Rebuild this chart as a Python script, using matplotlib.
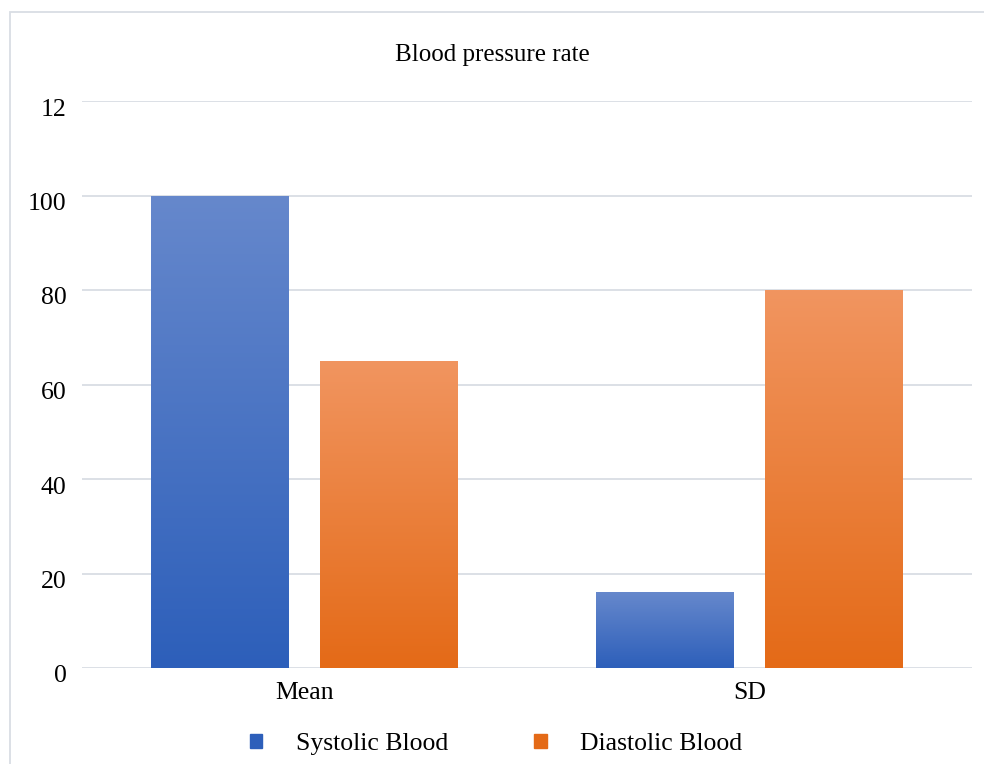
import numpy as np
import matplotlib.pyplot as plt
from matplotlib.patches import Rectangle, Patch
from matplotlib.colors import LinearSegmentedColormap
from matplotlib.transforms import ScaledTranslation

# 数据
categories = ['Mean', 'SD']
series_names = ['Systolic Blood', 'Diastolic Blood']
systolic = [100, 16]
diastolic = [65, 80]
yticks = [0, 20, 40, 60, 80, 100, 120]
ytick_labels = ['0', '20', '40', '60', '80', '100', '12']

plt.rcParams['font.family'] = ['Liberation Serif', 'DejaVu Serif']

blue_top, blue_bot = '#6688cc', '#2d5fba'
orange_top, orange_bot = '#f19560', '#e46a17'

fig = plt.figure(figsize=(9.84, 7.64), dpi=100)
ax = fig.add_axes([82 / 984, 1 - 668 / 764, 890 / 984, 567 / 764])

x = np.arange(len(categories))
w = 0.31
off = 0.19
b1 = ax.bar(x - off, systolic, w, color=blue_bot, zorder=2)
b2 = ax.bar(x + off, diastolic, w, color=orange_bot, zorder=2)

# 渐变填充
grad = np.linspace(0, 1, 256).reshape(-1, 1)
for bars, top, bot in [(b1, blue_top, blue_bot), (b2, orange_top, orange_bot)]:
    cmap = LinearSegmentedColormap.from_list('g', [bot, top])
    for p in bars:
        x0, y0 = p.get_x(), p.get_y()
        im = ax.imshow(grad, cmap=cmap, aspect='auto', origin='lower',
                       extent=[x0, x0 + p.get_width(), y0, y0 + p.get_height()],
                       zorder=3)
        im.set_clip_path(p)
        p.set_facecolor('none')

ax.set_xlim(-0.5, 1.5)
ax.set_ylim(0, 120)
ax.set_yticks(yticks)
ax.set_yticklabels(ytick_labels)
ax.set_xticks(x)
ax.set_xticklabels(categories)
ax.tick_params(axis='both', length=0, labelsize=18.5, colors='black')
ax.tick_params(axis='y', pad=11)
ax.tick_params(axis='x', pad=10)
shift = ScaledTranslation(0, -6 / 100, fig.dpi_scale_trans)
for lab in ax.get_yticklabels():
    lab.set_transform(lab.get_transform() + shift)
ax.grid(axis='y', color='#d9dde4', lw=1.3, zorder=0)
ax.set_axisbelow(True)
for s in ax.spines.values():
    s.set_visible(False)

fig.text(0.5, 1 - 55 / 764, 'Blood pressure rate', ha='center', va='center', fontsize=18)

handles = [Patch(color=blue_bot), Patch(color=orange_bot)]
fig.legend(handles, series_names, loc='center', bbox_to_anchor=(496 / 984, 1 - 744 / 764),
           ncol=2, frameon=False, fontsize=18.5, handlelength=0.5, handleheight=0.5,
           handletextpad=1.3, columnspacing=3.35)

# 外框
fig.patches.append(Rectangle((10 / 984, -0.1), 1.2, 1 - 12 / 764 + 0.1,
                             transform=fig.transFigure, fill=False,
                             edgecolor='#d9dde4', lw=1.3))

fig.savefig('out.png', dpi=100)
